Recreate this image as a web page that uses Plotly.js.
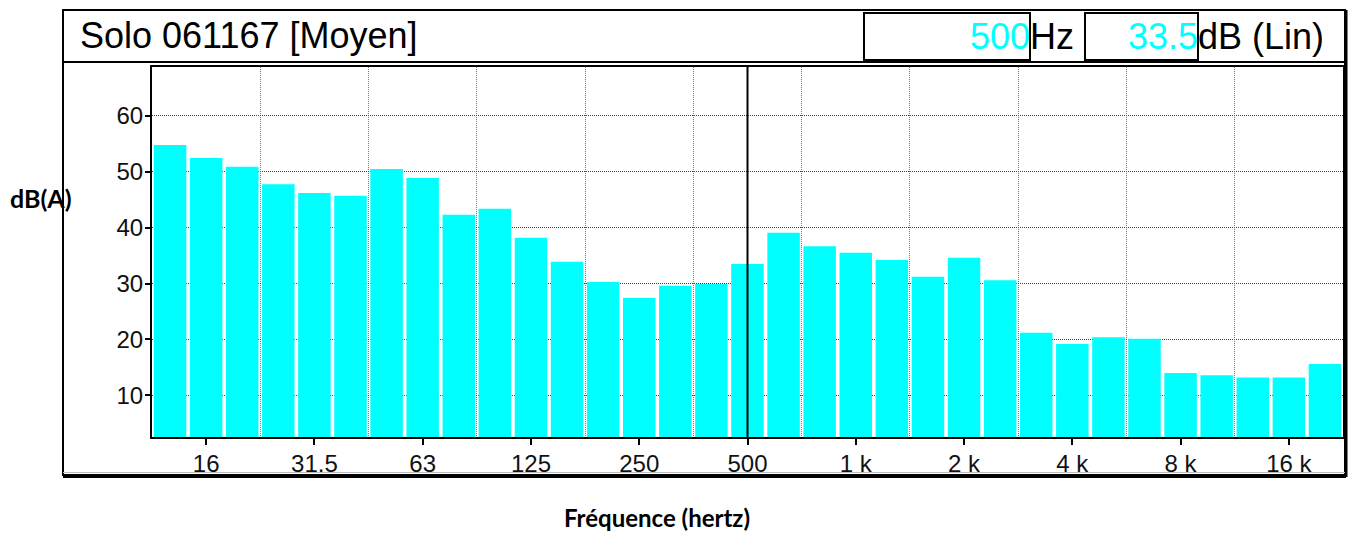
<!DOCTYPE html>
<html>
<head>
<meta charset="utf-8">
<script src="https://cdn.plot.ly/plotly-3.0.1.min.js"></script>
<style>
  html, body { margin: 0; padding: 0; background: #ffffff; }
  #chart { width: 1360px; height: 534px; }
</style>
</head>
<body>
<div id="chart"></div>
<script>
// ---- Data (third-octave bands) ----
const bands = ["12.5","16","20","25","31.5","40","50","63","80","100","125","160","200","250","315","400","500","630","800","1 k","1.25 k","1.6 k","2 k","2.5 k","3.15 k","4 k","5 k","6.3 k","8 k","10 k","12.5 k","16 k","20 k"];
const levels = [54.8,52.5,50.9,47.8,46.2,45.7,50.5,48.9,42.3,43.4,38.2,33.9,30.3,27.4,29.6,29.9,33.5,39.1,36.7,35.5,34.2,31.2,34.6,30.6,21.2,19.2,20.4,20.1,14.0,13.6,13.2,13.2,15.6];
const tickLabels = ["16","31.5","63","125","250","500","1 k","2 k","4 k","8 k","16 k"];
const yTicks = [10,20,30,40,50,60];
const chartTitle = "Solo 061167 [Moyen]";
const cursorBand = "500";
const freqUnit = "Hz";
const levelUnit = "dB (Lin)";
const yTitle = "dB(A)";
const xTitle = "Fréquence (hertz)";

// ---- Layout helpers (pixel -> paper) ----
const W = 1360, H = 534;
const L = 152, R = 1343, T = 67, B = 437;
const px = x => (x - L) / (R - L);
const py = y => (B - y) / (B - T);

const idx = bands.map((_, i) => i);
const tickvals = tickLabels.map(l => bands.indexOf(l));
const cursorIdx = bands.indexOf(cursorBand);
const cursorVal = levels[cursorIdx];

const arial = "Liberation Sans, Arial, sans-serif";
const bold = "Lato, Open Sans, sans-serif";

const trace = {
  type: "bar",
  x: idx,
  y: levels,
  marker: { color: "#00ffff", line: { width: 0 } },
  hoverinfo: "skip"
};

const layout = {
  width: W, height: H,
  margin: { l: L, r: W - R, t: T, b: H - B, pad: 0 },
  paper_bgcolor: "#ffffff",
  plot_bgcolor: "#ffffff",
  showlegend: false,
  bargap: 0.1,
  xaxis: {
    range: [-0.5, bands.length - 0.5],
    tickmode: "array",
    tickvals: tickvals,
    ticktext: tickLabels,
    ticks: "outside", ticklen: 6, tickwidth: 2, tickcolor: "#000",
    ticklabelstandoff: -2,
    tickfont: { family: arial, size: 24, color: "#111" },
    showline: true, linecolor: "#000", linewidth: 2, mirror: true,
    showgrid: false, zeroline: false,
    minor: { tick0: 2.5, dtick: 3, showgrid: true, gridcolor: "#7a7a7a", gridwidth: 1, griddash: "1px,1px", ticks: "" },
    layer: "above traces",
    fixedrange: true
  },
  yaxis: {
    range: [2.53, 68.77],
    tickmode: "array",
    tickvals: yTicks,
    ticks: "outside", ticklen: 5, tickwidth: 2, tickcolor: "#000",
    ticklabelstandoff: -3,
    tickfont: { family: arial, size: 24, color: "#111" },
    showline: true, linecolor: "#000", linewidth: 2, mirror: true,
    showgrid: true, gridcolor: "#444", gridwidth: 1, griddash: "1px,1px",
    zeroline: false,
    layer: "above traces",
    fixedrange: true
  },
  shapes: [
    // outer frame
    { type: "rect", xref: "paper", yref: "paper", x0: px(63), x1: px(1345), y0: py(475), y1: py(10), line: { color: "#000", width: 2 } },
    { type: "line", xref: "paper", yref: "paper", x0: px(63), x1: px(1346), y0: py(477), y1: py(477), line: { color: "#000", width: 2 } },
    { type: "line", xref: "paper", yref: "paper", x0: px(63), x1: px(1345), y0: py(472.5), y1: py(472.5), line: { color: "#bbbbbb", width: 1 } },
    { type: "line", xref: "paper", yref: "paper", x0: px(1346.5), x1: px(1346.5), y0: py(477), y1: py(10), line: { color: "#000", width: 2 } },
    // header separator
    { type: "line", xref: "paper", yref: "paper", x0: px(63), x1: px(1345), y0: py(62), y1: py(62), line: { color: "#000", width: 2 } },
    // header boxes
    { type: "rect", xref: "paper", yref: "paper", x0: px(864), x1: px(1030), y0: py(60), y1: py(13), line: { color: "#000", width: 2 } },
    { type: "rect", xref: "paper", yref: "paper", x0: px(1085), x1: px(1198), y0: py(60), y1: py(13), line: { color: "#000", width: 2 } },
    // cursor
    { type: "line", xref: "x", yref: "paper", x0: cursorIdx, x1: cursorIdx, y0: 0, y1: 1, line: { color: "#000", width: 2 } }
  ],
  annotations: [
    { xref: "paper", yref: "paper", x: px(78), y: py(36), xanchor: "left", yanchor: "middle", showarrow: false,
      text: chartTitle, font: { family: arial, size: 36, color: "#000" } },
    { xref: "paper", yref: "paper", x: px(1031), y: py(37), xanchor: "right", yanchor: "middle", showarrow: false,
      text: cursorBand, font: { family: arial, size: 36, color: "#00ffff" }, borderpad: 0 },
    { xref: "paper", yref: "paper", x: px(1029), y: py(37), xanchor: "left", yanchor: "middle", showarrow: false,
      text: freqUnit, font: { family: arial, size: 36, color: "#000" }, borderpad: 0 },
    { xref: "paper", yref: "paper", x: px(1199), y: py(37), xanchor: "right", yanchor: "middle", showarrow: false,
      text: cursorVal.toFixed(1), font: { family: arial, size: 36, color: "#00ffff" }, borderpad: 0 },
    { xref: "paper", yref: "paper", x: px(1197), y: py(37), xanchor: "left", yanchor: "middle", showarrow: false,
      text: levelUnit, font: { family: arial, size: 36, color: "#000" }, borderpad: 0 },
    { xref: "paper", yref: "paper", x: px(41), y: py(198), xanchor: "center", yanchor: "middle", showarrow: false,
      text: "<b>" + yTitle + "</b>", font: { family: bold, size: 25, color: "#000" } },
    { xref: "paper", yref: "paper", x: px(657), y: py(533), xanchor: "center", yanchor: "bottom", showarrow: false,
      text: "<b>" + xTitle + "</b>", font: { family: bold, size: 24, color: "#000" }, borderpad: 0 }
  ]
};

Plotly.newPlot("chart", [trace], layout, { staticPlot: true, displayModeBar: false });
</script>
</body>
</html>
